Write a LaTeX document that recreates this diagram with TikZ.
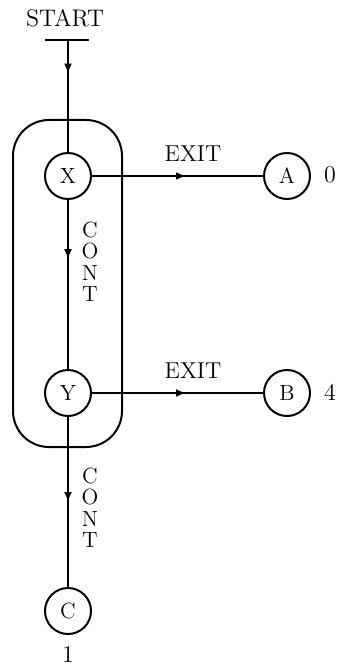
\documentclass[tikz,border=0pt]{standalone}
\usetikzlibrary{decorations.markings,arrows.meta}
\begin{document}
\begin{tikzpicture}[x=0.5pt,y=-0.5pt,
  line width=1pt,
  state/.style={draw,circle,minimum size=23pt,inner sep=0pt,font=\fontsize{11}{12}\selectfont},
  lbl/.style={font=\fontsize{11.5}{12}\selectfont,inner sep=0pt},
  numlbl/.style={font=\fontsize{12}{12}\selectfont,inner sep=0pt},
  midarrow/.style={postaction={decorate},decoration={markings,mark=at position #1 with {\arrow{Latex[length=5pt,width=4pt]}}}},
  vert/.style={font=\fontsize{11}{10.75}\selectfont,inner sep=0pt}]
\useasboundingbox (0,0) rectangle (342,668);
\draw[rounded corners=18pt] (13,120) rectangle (122,447);
\node[font=\fontsize{12}{12}\selectfont,inner sep=0pt] (start) at (65,18) {START};
\coordinate (barL) at (45,40);
\coordinate (barR) at (89,40);
\coordinate (barM) at (68,40);
\draw (barL) -- (barR);
\node[state] (X) at (68,176) {X};
\node[state] (Y) at (68,393) {Y};
\node[state] (A) at (287,176) {A};
\node[state] (B) at (287,393) {B};
\node[state] (C) at (68,611) {C};
\node[numlbl] (n0) at (330,175) {0};
\node[numlbl] (n4) at (330,392) {4};
\node[numlbl] (n1) at (68,655) {1};
\draw[midarrow=0.3] (barM) -- (X);
\draw[midarrow=0.35] (X) -- (Y);
\draw[midarrow=0.5] (Y) -- (C);
\draw[midarrow=0.55] (X) -- (A);
\draw[midarrow=0.55] (Y) -- (B);
\node[lbl] (e1) at (193,154) {EXIT};
\node[lbl] (e2) at (193,371) {EXIT};
\node[vert] (c1) at (90,265) {\begin{tabular}{@{}c@{}}C\\O\\N\\T\end{tabular}};
\node[vert] (c2) at (90,511) {\begin{tabular}{@{}c@{}}C\\O\\N\\T\end{tabular}};
\end{tikzpicture}
\end{document}
